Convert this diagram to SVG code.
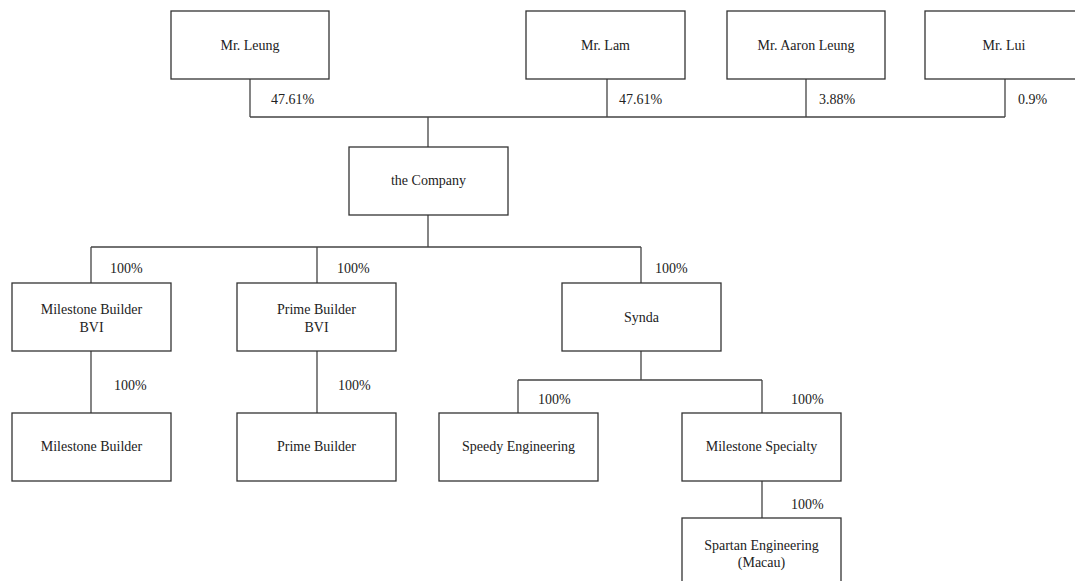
<svg xmlns="http://www.w3.org/2000/svg" width="1075" height="581" viewBox="0 0 1075 581">
<style>
.box{fill:#fff;stroke:#333;stroke-width:1.3}
.ln{fill:none;stroke:#444;stroke-width:1.3}
text{font-family:"Liberation Serif","Times New Roman",serif;font-size:14px;fill:#222}
.c{text-anchor:middle}
</style>
<rect width="1075" height="581" fill="#fff"/>
<g id="connectors">
<path class="ln" d="M250 79V117M607 79V117M806 79V117M1005 79V117M250 117H1005M428 117V147"/>
<path class="ln" d="M428 215V247M91 247H641M91 247V283M317 247V283M641 247V283"/>
<path class="ln" d="M91 351V413M317 351V413"/>
<path class="ln" d="M641 351V380M518 380H762M518 380V413M762 380V413M762 481V518"/>
<text x="271" y="104">47.61%</text>
<text x="619" y="104">47.61%</text>
<text x="819" y="104">3.88%</text>
<text x="1018" y="104">0.9%</text>
<text x="110" y="273">100%</text>
<text x="337" y="273">100%</text>
<text x="655" y="273">100%</text>
<text x="114" y="390">100%</text>
<text x="338" y="390">100%</text>
<text x="538" y="404">100%</text>
<text x="791" y="404">100%</text>
<text x="791" y="509">100%</text>
</g>
<g id="leung"><rect class="box" x="171" y="11" width="158" height="68"/><text class="c" x="250" y="50">Mr. Leung</text></g>
<g id="lam"><rect class="box" x="526" y="11" width="159" height="68"/><text class="c" x="605.5" y="50">Mr. Lam</text></g>
<g id="aaron"><rect class="box" x="727" y="11" width="158" height="68"/><text class="c" x="806" y="50">Mr. Aaron Leung</text></g>
<g id="lui"><rect class="box" x="925" y="11" width="158" height="68"/><text class="c" x="1004" y="50">Mr. Lui</text></g>
<g id="company"><rect class="box" x="349" y="147" width="159" height="68"/><text class="c" x="428.5" y="185">the Company</text></g>
<g id="mbbvi"><rect class="box" x="12" y="283" width="159" height="68"/><text class="c" x="91.5" y="314">Milestone Builder</text><text class="c" x="91.5" y="332">BVI</text></g>
<g id="pbbvi"><rect class="box" x="237" y="283" width="159" height="68"/><text class="c" x="316.5" y="314">Prime Builder</text><text class="c" x="316.5" y="332">BVI</text></g>
<g id="synda"><rect class="box" x="562" y="283" width="159" height="68"/><text class="c" x="641.5" y="322">Synda</text></g>
<g id="mb"><rect class="box" x="12" y="413" width="159" height="68"/><text class="c" x="91.5" y="451">Milestone Builder</text></g>
<g id="pb"><rect class="box" x="237" y="413" width="159" height="68"/><text class="c" x="316.5" y="451">Prime Builder</text></g>
<g id="speedy"><rect class="box" x="439" y="413" width="159" height="68"/><text class="c" x="518.5" y="451">Speedy Engineering</text></g>
<g id="ms"><rect class="box" x="682" y="413" width="159" height="68"/><text class="c" x="761.5" y="451">Milestone Specialty</text></g>
<g id="spartan"><rect class="box" x="682" y="518" width="159" height="68"/><text class="c" x="761.5" y="550">Spartan Engineering</text><text class="c" x="761.5" y="567">(Macau)</text></g>
</svg>
